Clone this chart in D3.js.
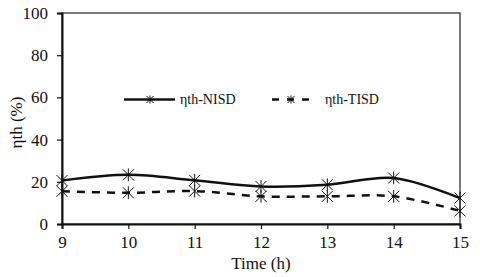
<!DOCTYPE html>
<html>
<head>
<meta charset="utf-8">
<script src="https://cdn.jsdelivr.net/npm/d3@7"></script>
<style>
	body { margin: 0; background: #fff; }
</style>
</head>
<body>
<svg id="chart" width="480" height="277"></svg>
<script>
const hours = [9, 10, 11, 12, 13, 14, 15];
const nisd = [20.6, 23.3, 20.7, 17.8, 18.6, 21.8, 12.3];
const tisd = [15.5, 14.8, 15.6, 13.1, 13.1, 13.1, 6.2];
const yTicks = [0, 20, 40, 60, 80, 100];

const serif = "Liberation Serif";
const margin = { left: 62, right: 20, top: 13, bottom: 53 };
const width = 480, height = 277;

const svg = d3.select("#chart");

const x = d3.scaleLinear()
	.domain([9, 15])
	.range([margin.left, width - margin.right]);

const y = d3.scaleLinear()
	.domain([0, 100])
	.range([height - margin.bottom, margin.top]);

// frame
svg.append("rect")
	.attr("x", x(9))
	.attr("y", y(100))
	.attr("width", x(15) - x(9))
	.attr("height", y(0) - y(100))
	.attr("fill", "none")
	.attr("stroke", "#222")
	.attr("stroke-width", 1.2);

const xAxis = svg.append("g")
	.attr("transform", `translate(0,${y(0)})`)
	.call(d3.axisBottom(x).tickValues(hours).tickFormat(d3.format("d")).tickSizeOuter(0).tickSize(5).tickPadding(7));

const yAxis = svg.append("g")
	.attr("transform", `translate(${x(9)},0)`)
	.call(d3.axisLeft(y).tickValues(yTicks).tickSizeOuter(0).tickSize(5).tickPadding(9));

[xAxis, yAxis].forEach(a => {
	a.attr("font-family", null).attr("font-size", null);
	a.select(".domain").attr("stroke", "#111").attr("stroke-width", 2);
	a.selectAll(".tick line").attr("stroke", "#111").attr("stroke-width", 1.2);
	a.selectAll(".tick text")
		.attr("fill", "#111")
		.attr("font-family", serif)
		.attr("font-size", 17);
});

svg.append("text")
	.attr("x", (x(9) + x(15)) / 2)
	.attr("y", 269)
	.attr("text-anchor", "middle")
	.attr("fill", "#111")
	.attr("font-family", serif)
	.attr("font-size", 17)
	.text("Time (h)");

svg.append("text")
	.attr("transform", `translate(22,${(y(0) + y(100)) / 2 + 4}) rotate(-90)`)
	.attr("text-anchor", "middle")
	.attr("fill", "#111")
	.attr("font-family", serif)
	.attr("font-size", 17)
	.text("ηth (%)");

const line = d3.line()
	.x((d, i) => x(hours[i]))
	.y(d => y(d))
	.curve(d3.curveCatmullRom.alpha(0.5));

function asterisk(g, cx, cy, r) {
	const path = `M${cx - r},${cy - r}L${cx + r},${cy + r}M${cx - r},${cy + r}L${cx + r},${cy - r}M${cx},${cy - r * 1.15}L${cx},${cy + r * 1.15}`;
	g.append("path")
		.attr("d", path)
		.attr("stroke", "#111")
		.attr("stroke-width", 1)
		.attr("fill", "none");
}

const series = [
	{ name: "ηth-NISD", values: nisd, dash: null },
	{ name: "ηth-TISD", values: tisd, dash: "8,7" }
];

series.forEach(s => {
	svg.append("path")
		.datum(s.values)
		.attr("d", line)
		.attr("fill", "none")
		.attr("stroke", "#111")
		.attr("stroke-width", 2.5)
		.attr("stroke-dasharray", s.dash);
});

series.forEach(s => {
	const g = svg.append("g");
	s.values.forEach((v, i) => asterisk(g, x(hours[i]), y(v), 5.5));
});

// legend
const legend = svg.append("g");
legend.append("line")
	.attr("x1", 124).attr("x2", 175)
	.attr("y1", 99.5).attr("y2", 99.5)
	.attr("stroke", "#111").attr("stroke-width", 2.5);
asterisk(legend, 150, 99.5, 3.5);
legend.append("text")
	.attr("x", 180).attr("y", 104)
	.attr("fill", "#111")
	.attr("font-family", serif)
	.attr("font-size", 14)
	.text(series[0].name);

legend.append("line")
	.attr("x1", 272).attr("x2", 310)
	.attr("y1", 99.5).attr("y2", 99.5)
	.attr("stroke", "#111").attr("stroke-width", 2.5)
	.attr("stroke-dasharray", "7,8");
asterisk(legend, 291, 99.5, 3.5);
legend.append("text")
	.attr("x", 325).attr("y", 104)
	.attr("fill", "#111")
	.attr("font-family", serif)
	.attr("font-size", 14)
	.text(series[1].name);
</script>
</body>
</html>
